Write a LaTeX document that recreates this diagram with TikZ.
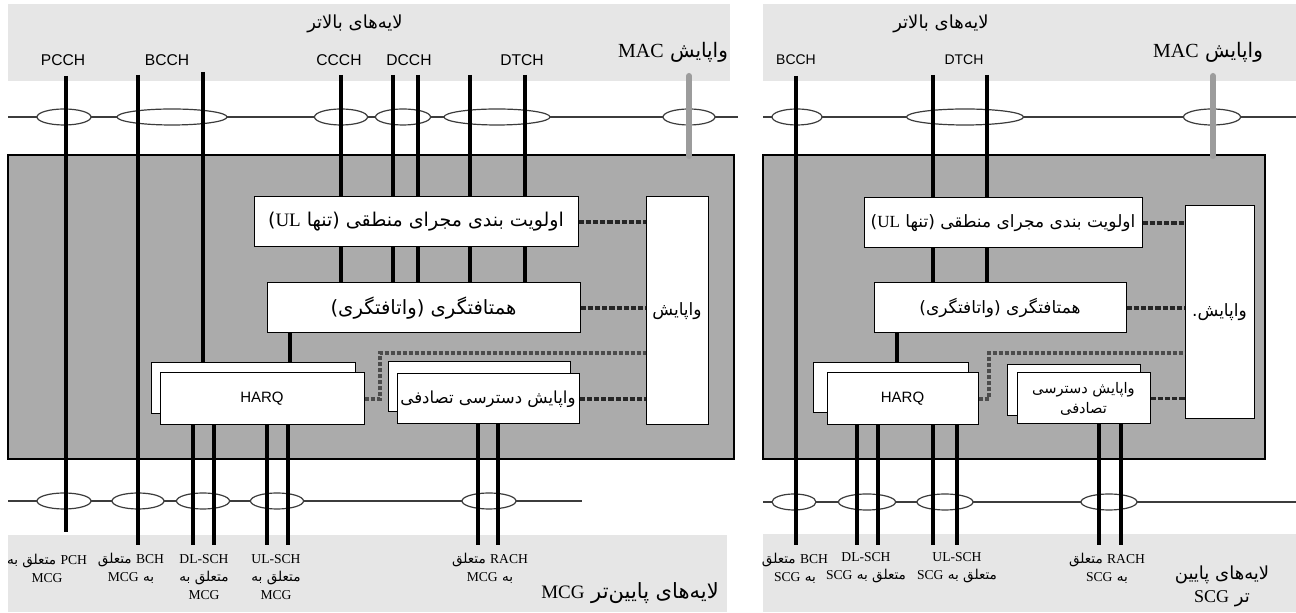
\documentclass[tikz,border=0pt]{standalone}
\usepackage{fontspec}
\setmainfont{Liberation Serif}
\newfontfamily\farsi[Script=Arabic]{DejaVu Sans}
\newfontfamily\arial{Liberation Sans}
\TeXXeTstate=1
\usetikzlibrary{shapes.geometric, positioning}
\definecolor{bandGray}{HTML}{E6E6E6}
\definecolor{macGray}{HTML}{ABABAB}
\definecolor{ctrlGray}{HTML}{9C9C9C}
\definecolor{busGray}{HTML}{3C3C3C}
\newcommand{\fa}[1]{{\farsi\beginR#1\endR}}
\newcommand{\enw}[1]{\beginL{\rmfamily#1}\endL}
\tikzset{
  band/.style={fill=bandGray},
  macarea/.style={draw=black, line width=0.6pt, fill=macGray},
  bus/.style={draw=busGray, line width=0.6pt},
  port/.style={ellipse, draw=busGray, fill=white, line width=0.6pt,
    minimum height=8pt, inner sep=0pt},
  fbox/.style={draw=black, fill=white, line width=0.5pt, inner sep=0pt,
    align=center, font=\farsi\fontsize{8.5}{11}\selectfont},
  chan/.style={line width=2pt, black},
  ctrlbar/.style={line width=3pt, ctrlGray, line cap=round},
  sig/.style={line width=1.6pt, black!85, dash pattern=on 2.6pt off 1pt},
  harqsig/.style={line width=1.6pt, black!70, dash pattern=on 2pt off 1pt},
  chname/.style={font=\arial\fontsize{7}{8}\selectfont, inner sep=0pt},
  layertext/.style={font=\farsi\fontsize{9}{10}\selectfont, inner sep=0pt},
  mactext/.style={font=\fontsize{10}{11}\selectfont, inner sep=0pt},
  trlabel/.style={font=\fontsize{6.8}{9}\selectfont, inner sep=0pt, align=center},
  lowlayer/.style={font=\fontsize{9}{11.5}\selectfont, inner sep=0pt, align=center}
}

\begin{document}
\begin{tikzpicture}[x=0.5pt, y=-0.5pt]
  \useasboundingbox (0,0) rectangle (1296,613);
  % layer bands
  \fill[band] (8,4) rectangle (730,81);
  \fill[band] (763,4) rectangle (1296,81);
  \fill[band] (8,535) rectangle (727,612);
  \fill[band] (763,534) rectangle (1296,612);

  % ---------------- MCG (left) ----------------
  \node[layertext] (upL) at (355,24) {\fa{لایه^^^^200cهای بالاتر}};
  \node[mactext] (macL) at (673,52) {\fa{واپایش \enw{MAC}}};
  \node[chname, font=\arial\fontsize{7.8}{9}\selectfont] (pcchL) at (63,60) {PCCH};
  \node[chname, font=\arial\fontsize{7.8}{9}\selectfont] (bcchL) at (167,60) {BCCH};
  \node[chname, font=\arial\fontsize{7.8}{9}\selectfont] (ccchL) at (339,60) {CCCH};
  \node[chname, font=\arial\fontsize{7.8}{9}\selectfont] (dcchL) at (409,60) {DCCH};
  \node[chname, font=\arial\fontsize{7.8}{9}\selectfont] (dtchL) at (522,60) {DTCH};

  \draw[bus] (8,117) -- (738,117);
  \draw[bus] (8,501) -- (582,501);
  \draw[macarea] (8,155) rectangle (734,459);

  \node[port, minimum width=27pt] (pcchP) at (64,117) {};
  \node[port, minimum width=55pt] (bcchP) at (172,117) {};
  \node[port, minimum width=26.5pt] (ccchP) at (341,117) {};
  \node[port, minimum width=27.5pt] (dcchP) at (403,117) {};
  \node[port, minimum width=53pt] (dtchP) at (497,117) {};
  \node[port, minimum width=26pt] (macP) at (689,117) {};
  \node[port, minimum width=27pt] (pchP) at (64,501) {};
  \node[port, minimum width=26pt] (bchP) at (138,501) {};
  \node[port, minimum width=26.5pt] (dlP) at (203,501) {};
  \node[port, minimum width=26.5pt] (ulP) at (277,501) {};
  \node[port, minimum width=27pt] (rachP) at (489,501) {};

  \node[fbox, minimum width=162pt, minimum height=25pt, font=\farsi\fontsize{9.5}{11}\selectfont]
    (lpL) at (416,222) {\fa{اولویت بندی مجرای منطقی (تنها \enw{UL})}};
  \node[fbox, minimum width=156.5pt, minimum height=25pt, font=\farsi\fontsize{9.8}{11}\selectfont]
    (muxL) at (423.5,308) {\fa{همتافتگری (واتافتگری)}};
  \node[fbox, minimum width=31pt, minimum height=114pt] (ctrlL) at (677,311)
    {\fa{واپایش}};
  \node[fbox, minimum width=102pt, minimum height=25.5pt] (harqbL) at (253,388.5) {};
  \node[fbox, minimum width=102pt, minimum height=26pt, font=\arial\fontsize{7.5}{9}\selectfont]
    (harqL) at (262,399) {HARQ};
  \node[fbox, minimum width=91pt, minimum height=25pt] (rabL) at (479,387) {};
  \node[fbox, minimum width=91pt, minimum height=25pt, font=\farsi\fontsize{8.3}{10}\selectfont]
    (raL) at (488,399) {\fa{واپایش دسترسی تصادفی}};

  % channels
  \draw[chan] (66,76) -- (66,532);
  \draw[chan] (138,75) -- (138,545);
  \draw[chan] (203,72) -- (203,0 |- harqbL.north);
  \foreach \cx in {341,393,418,470,525} {
    \draw[chan] (\cx,75) -- (\cx,0 |- lpL.north);
    \draw[chan] (\cx,0 |- lpL.south) -- (\cx,0 |- muxL.north);
  }
  \draw[chan] (290,0 |- muxL.south) -- (290,0 |- harqbL.north);
  \foreach \cx in {193,214,267,288}
    \draw[chan] (\cx,0 |- harqL.south) -- (\cx,545);
  \foreach \cx in {478,498}
    \draw[chan] (\cx,0 |- raL.south) -- (\cx,545);
  \draw[ctrlbar] (689,76) -- (689,156);

  % control signalling
  \draw[sig] (lpL.east) -- (lpL.east -| ctrlL.west);
  \draw[sig] (muxL.east) -- (muxL.east -| ctrlL.west);
  \draw[sig] (raL.east) -- (raL.east -| ctrlL.west);
  \coordinate (hqL) at (380,353);
  \draw[harqsig] (harqL.east) -| (hqL) -- (hqL -| ctrlL.west);

  \node[trlabel] (pchL) at (47,568) {\fa{\enw{PCH} متعلق به}\\MCG};
  \node[trlabel] (bchL) at (131,568) {\fa{\enw{BCH} متعلق}\\\fa{به \enw{MCG}}};
  \node[trlabel] (dlL) at (204,577) {DL-SCH\\\fa{متعلق به}\\MCG};
  \node[trlabel] (ulL) at (276,577) {UL-SCH\\\fa{متعلق به}\\MCG};
  \node[trlabel] (rachL) at (490,568) {\fa{\enw{RACH} متعلق}\\\fa{به \enw{MCG}}};
  \node[lowlayer, font=\fontsize{10.5}{11.5}\selectfont] (lowL) at (630,593)
    {\fa{لایه^^^^200cهای پایین^^^^200cتر {\fontsize{9.5}{11}\selectfont\enw{MCG}}}};

  % ---------------- SCG (right) ----------------
  \node[layertext] (upR) at (941,24) {\fa{لایه^^^^200cهای بالاتر}};
  \node[mactext] (macR) at (1208,52) {\fa{واپایش \enw{MAC}}};
  \node[chname] (bcchR) at (796,60) {BCCH};
  \node[chname] (dtchR) at (964,60) {DTCH};

  \draw[bus] (763,117) -- (1296,117);
  \draw[bus] (763,502) -- (1296,502);
  \draw[macarea] (763,155) rectangle (1265,459);

  \node[port, minimum width=25pt] (bcchPR) at (797,117) {};
  \node[port, minimum width=58.5pt] (dtchPR) at (965,117) {};
  \node[port, minimum width=28.5pt] (macPR) at (1212,117) {};
  \node[port, minimum width=22pt] (bchPR) at (794,502) {};
  \node[port, minimum width=28.5pt] (dlPR) at (867,502) {};
  \node[port, minimum width=28pt] (ulPR) at (945,502) {};
  \node[port, minimum width=28pt] (rachPR) at (1109,502) {};

  \node[fbox, minimum width=139pt, minimum height=25pt] (lpR) at (1003,223)
    {\fa{اولویت بندی مجرای منطقی (تنها \enw{UL})}};
  \node[fbox, minimum width=126pt, minimum height=25pt] (muxR) at (1000,308)
    {\fa{همتافتگری (واتافتگری)}};
  \node[fbox, minimum width=34.5pt, minimum height=106.5pt] (ctrlR) at (1219.5,312.5)
    {\fa{واپایش.}};
  \node[fbox, minimum width=77.5pt, minimum height=25pt] (harqbR) at (890.5,388) {};
  \node[fbox, minimum width=75.5pt, minimum height=26pt, font=\arial\fontsize{7.5}{9}\selectfont]
    (harqR) at (902.5,399) {HARQ};
  \node[fbox, minimum width=66.5pt, minimum height=25.5pt] (rabR) at (1073.5,390.5) {};
  \node[fbox, minimum width=66.5pt, minimum height=25.5pt, font=\farsi\fontsize{7.3}{10}\selectfont]
    (raR) at (1083.5,398.5) {\fa{واپایش دسترسی}\\\fa{تصادفی}};

  \draw[chan] (796,76) -- (796,545);
  \foreach \cx in {933,987} {
    \draw[chan] (\cx,75) -- (\cx,0 |- lpR.north);
    \draw[chan] (\cx,0 |- lpR.south) -- (\cx,0 |- muxR.north);
  }
  \draw[chan] (897,0 |- muxR.south) -- (897,0 |- harqbR.north);
  \foreach \cx in {857,878,933,957}
    \draw[chan] (\cx,0 |- harqR.south) -- (\cx,545);
  \foreach \cx in {1099,1121}
    \draw[chan] (\cx,0 |- raR.south) -- (\cx,545);
  \draw[ctrlbar] (1213,76) -- (1213,156);

  \draw[sig] (lpR.east) -- (lpR.east -| ctrlR.west);
  \draw[sig] (muxR.east) -- (muxR.east -| ctrlR.west);
  \draw[sig] (raR.east) -- (raR.east -| ctrlR.west);
  \coordinate (hqR) at (989,353);
  \draw[harqsig] (harqR.east) -| (hqR) -- (hqR -| ctrlR.west);

  \node[trlabel] (bchR) at (795,568) {\fa{\enw{BCH} متعلق}\\\fa{به \enw{SCG}}};
  \node[trlabel] (dlR) at (866,568) {DL-SCH\\\fa{متعلق به \enw{SCG}}};
  \node[trlabel] (ulR) at (957,568) {UL-SCH\\\fa{متعلق به \enw{SCG}}};
  \node[trlabel] (rachR) at (1107,568) {\fa{\enw{RACH} متعلق}\\\fa{به \enw{SCG}}};
  \node[lowlayer] (lowR) at (1222,586) {\fa{لایه^^^^200cهای پایین}\\\fa{تر \enw{SCG}}};
\end{tikzpicture}
\end{document}
